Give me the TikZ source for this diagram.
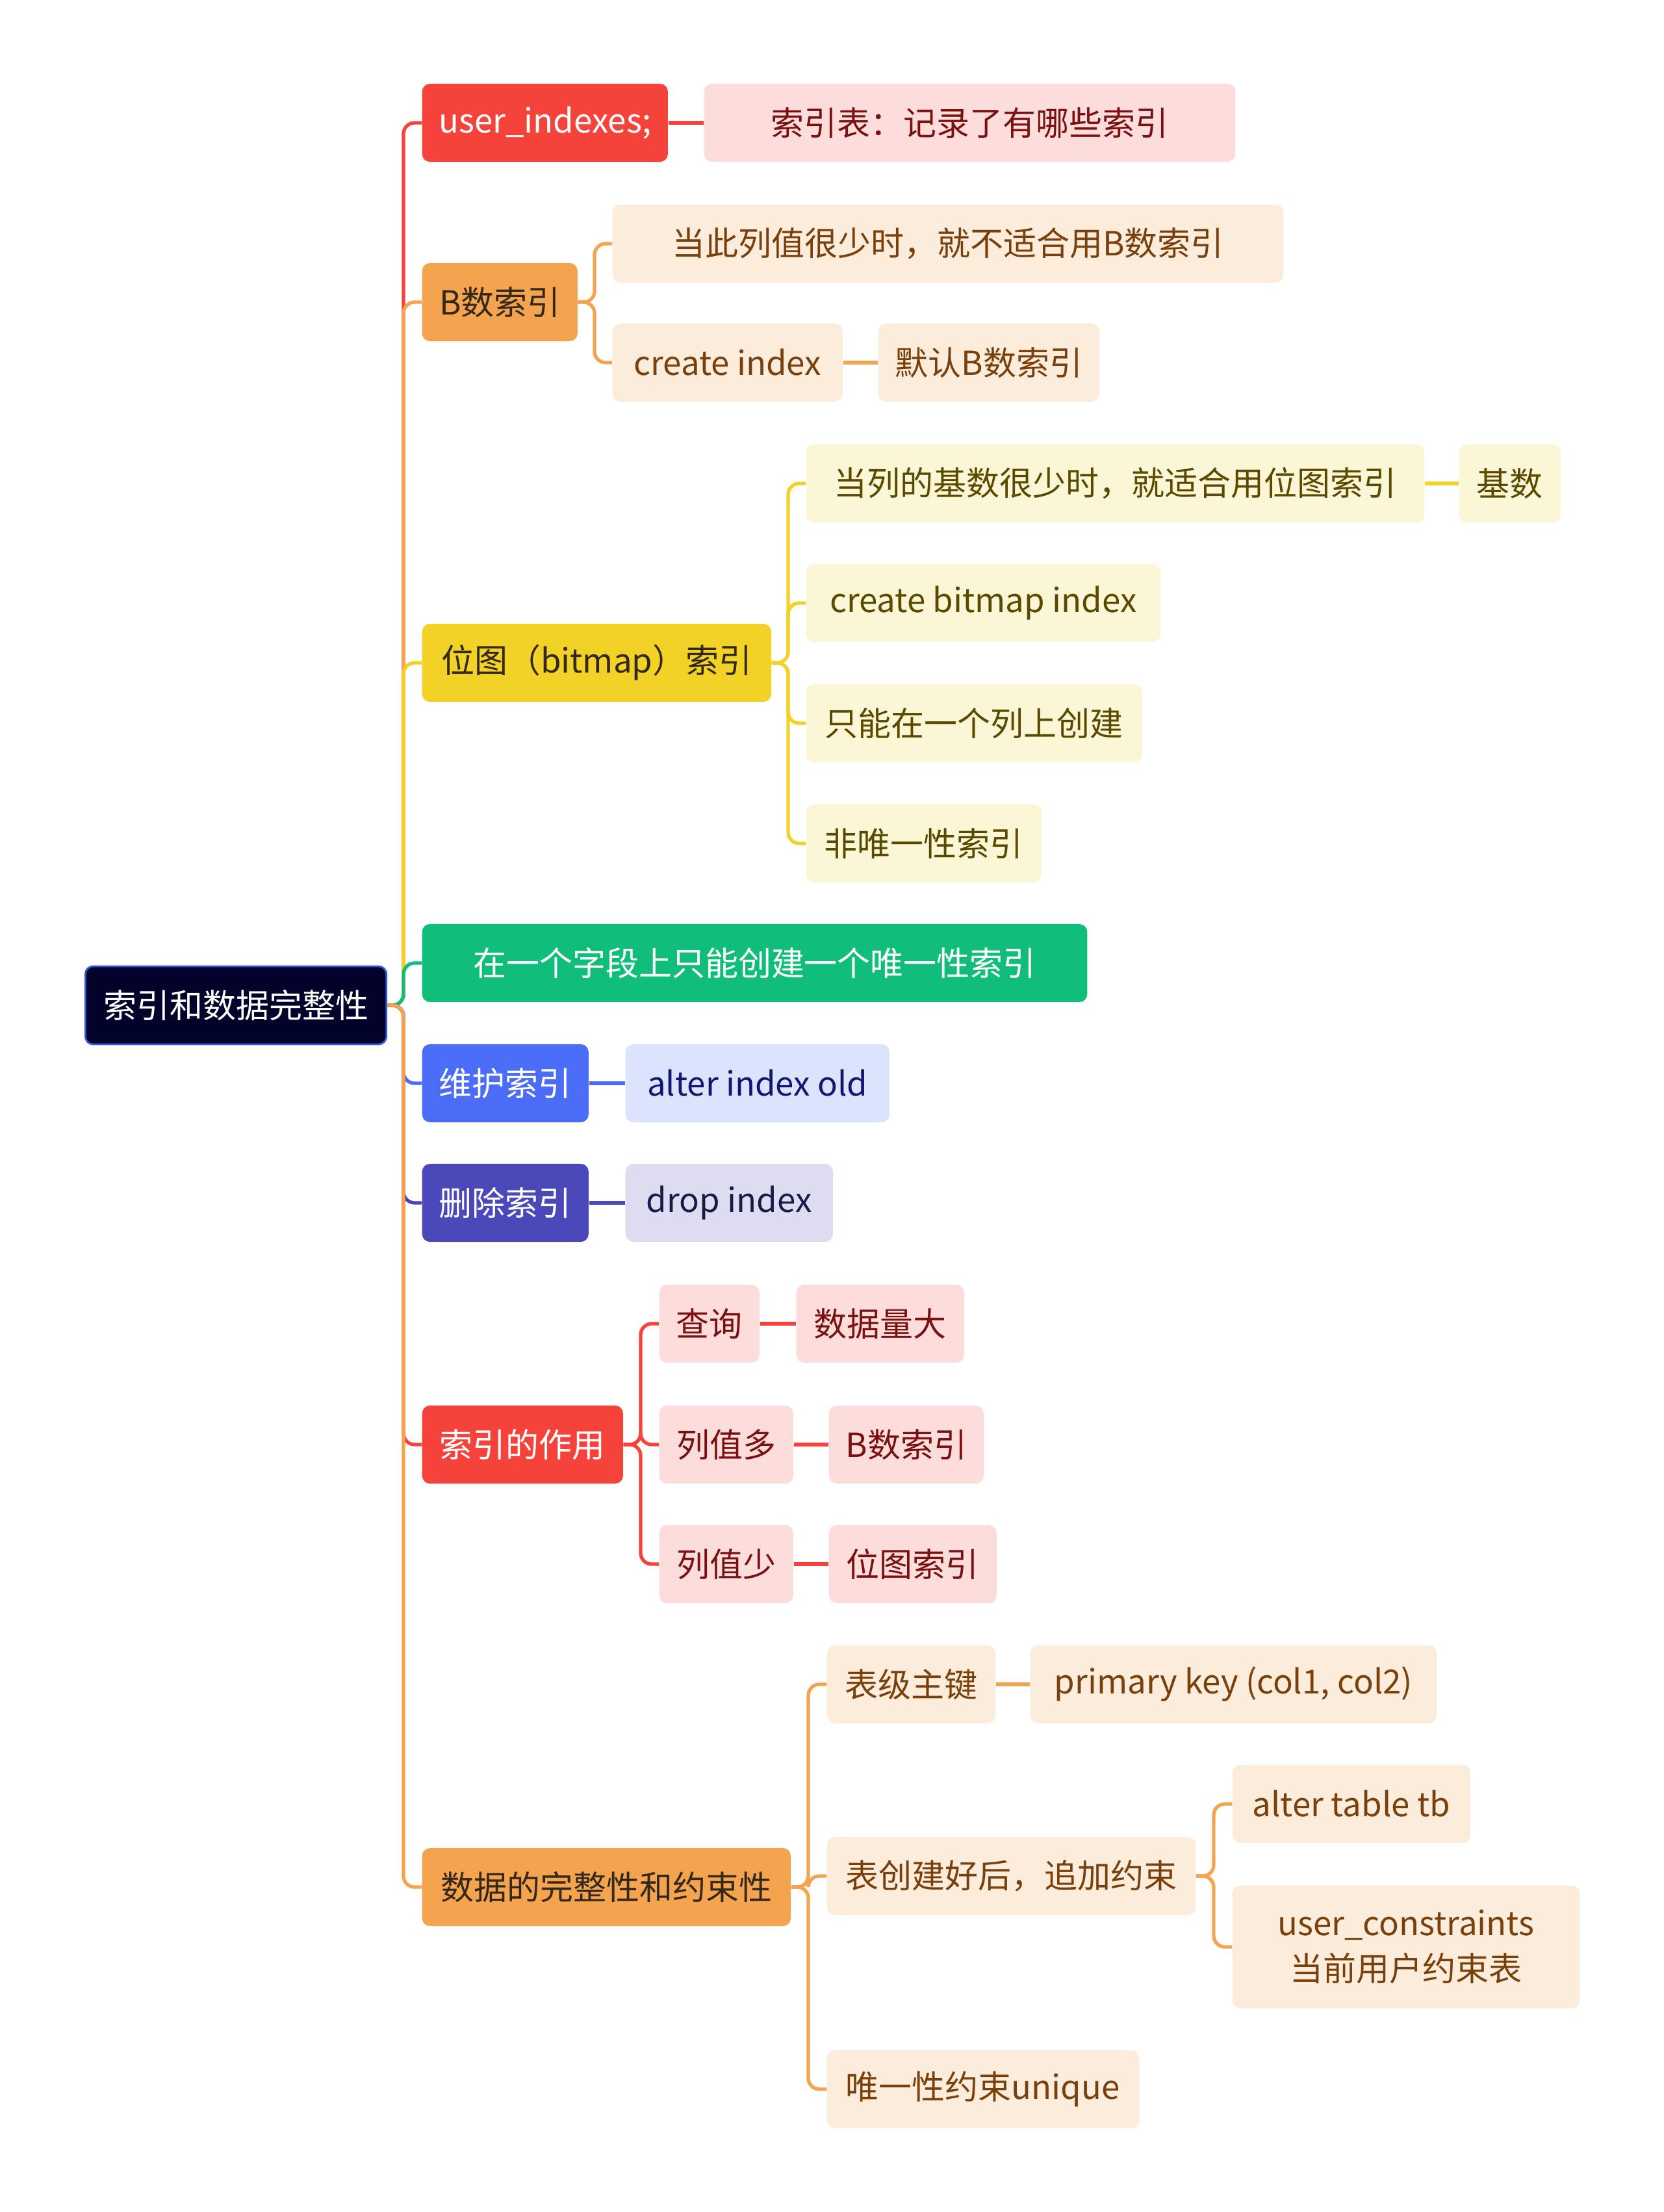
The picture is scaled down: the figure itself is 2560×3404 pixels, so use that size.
\documentclass[tikz,border=0pt]{standalone}
\usepackage{fontspec}
\setmainfont{Noto Sans CJK SC}
\definecolor{RootFill}{RGB}{2,2,42}
\definecolor{RootLine}{RGB}{48,88,214}
\definecolor{RedMain}{RGB}{245,67,59}
\definecolor{RedSoft}{RGB}{253,220,220}
\definecolor{RedText}{RGB}{122,16,16}
\definecolor{OrangeMain}{RGB}{244,163,79}
\definecolor{OrangeSoft}{RGB}{252,236,220}
\definecolor{OrangeText}{RGB}{122,64,12}
\definecolor{YellowMain}{RGB}{242,210,38}
\definecolor{YellowSoft}{RGB}{251,246,214}
\definecolor{YellowText}{RGB}{90,74,0}
\definecolor{GreenMain}{RGB}{16,190,122}
\definecolor{BlueMain}{RGB}{74,108,247}
\definecolor{BlueSoft}{RGB}{220,227,252}
\definecolor{BlueText}{RGB}{14,24,112}
\definecolor{IndigoMain}{RGB}{75,72,186}
\definecolor{IndigoSoft}{RGB}{221,220,240}
\definecolor{IndigoText}{RGB}{26,26,72}
\definecolor{DarkText}{RGB}{52,40,26}
\tikzset{
  basebox/.style={rounded corners=0.12cm,anchor=west,minimum height=1.2cm,
    inner sep=0pt,align=center,font=\fontsize{14.5}{20}\selectfont},
  rootbox/.style={basebox,fill=RootFill,draw=RootLine,line width=0.8pt,text=white},
  redtopic/.style={basebox,fill=RedMain,text=white},
  orangetopic/.style={basebox,fill=OrangeMain,text=DarkText},
  yellowtopic/.style={basebox,fill=YellowMain,text=DarkText},
  greentopic/.style={basebox,fill=GreenMain,text=white},
  bluetopic/.style={basebox,fill=BlueMain,text=white},
  indigotopic/.style={basebox,fill=IndigoMain,text=white},
  redleaf/.style={basebox,fill=RedSoft,text=RedText},
  orangeleaf/.style={basebox,fill=OrangeSoft,text=OrangeText},
  yellowleaf/.style={basebox,fill=YellowSoft,text=YellowText},
  blueleaf/.style={basebox,fill=BlueSoft,text=BlueText},
  indigoleaf/.style={basebox,fill=IndigoSoft,text=IndigoText},
  link/.style={line width=1.5pt,rounded corners=0.17cm,color=#1}
}
\begin{document}
\begin{tikzpicture}[x=0.01cm,y=-0.01cm]
\useasboundingbox (0,0) rectangle (2560,3404);

% root and first level
\node[rootbox,minimum width=4.63cm] (root) at (130,1547) {索引和数据完整性};
\node[redtopic,minimum width=3.78cm] (useridx) at (649,189) {user\_indexes;};
\node[orangetopic,minimum width=2.39cm] (btree) at (649,465) {B数索引};
\node[yellowtopic,minimum width=5.37cm] (bitmap) at (649,1020) {位图（bitmap）索引};
\node[greentopic,minimum width=10.23cm] (unique) at (649,1482) {在一个字段上只能创建一个唯一性索引};
\node[bluetopic,minimum width=2.56cm] (alter) at (649,1667) {维护索引};
\node[indigotopic,minimum width=2.56cm] (drop) at (649,1851) {删除索引};
\node[redtopic,minimum width=3.09cm] (usage) at (649,2223) {索引的作用};
\node[orangetopic,minimum width=5.67cm] (integ) at (649,2904) {数据的完整性和约束性};

% second level
\node[redleaf,minimum width=8.17cm] (idxtab) at (1083,189) {索引表：记录了有哪些索引};
\node[orangeleaf,minimum width=10.32cm] (bfew) at (942,375) {当此列值很少时，就不适合用B数索引};
\node[orangeleaf,minimum width=3.54cm] (bcreate) at (942,558) {create index};
\node[orangeleaf,minimum width=3.40cm] (bdefault) at (1351,558) {默认B数索引};
\node[yellowleaf,minimum width=9.51cm] (mfew) at (1240,744) {当列的基数很少时，就适合用位图索引};
\node[yellowleaf,minimum width=1.56cm] (mcard) at (2245,744) {基数};
\node[yellowleaf,minimum width=5.45cm] (mcreate) at (1240,928) {create bitmap index};
\node[yellowleaf,minimum width=5.17cm] (mone) at (1240,1113) {只能在一个列上创建};
\node[yellowleaf,minimum width=3.62cm] (mnonuniq) at (1240,1298) {非唯一性索引};
\node[blueleaf,minimum width=4.06cm] (altercmd) at (962,1667) {alter index old};
\node[indigoleaf,minimum width=3.19cm] (dropcmd) at (962,1851) {drop index};
\node[redleaf,minimum width=1.54cm] (query) at (1014,2037) {查询};
\node[redleaf,minimum width=2.58cm] (bigdata) at (1225,2037) {数据量大};
\node[redleaf,minimum width=2.06cm] (manyval) at (1014,2223) {列值多};
\node[redleaf,minimum width=2.38cm] (useb) at (1275,2223) {B数索引};
\node[redleaf,minimum width=2.06cm] (fewval) at (1014,2407) {列值少};
\node[redleaf,minimum width=2.58cm] (usebmp) at (1275,2407) {位图索引};
\node[orangeleaf,minimum width=2.59cm] (pkey) at (1272,2592) {表级主键};
\node[orangeleaf,minimum width=6.25cm] (pkcols) at (1585,2592) {primary key (col1, col2)};
\node[orangeleaf,minimum width=5.67cm] (later) at (1272,2887) {表创建好后，追加约束};
\node[orangeleaf,minimum width=3.66cm] (altertab) at (1896,2776) {alter table tb};
\node[orangeleaf,minimum width=5.34cm,minimum height=1.89cm] (constab) at (1896,2996)
  {user\_constraints\\当前用户约束表};
\node[orangeleaf,minimum width=4.80cm] (uniqcons) at (1272,3215) {唯一性约束unique};

% joints
\coordinate (trunk) at (621,1547);
\coordinate (bjoin) at (915,465);
\coordinate (mjoin) at (1213,1020);
\coordinate (ujoin) at (986,2223);
\coordinate (ijoin) at (1244,2904);
\coordinate (ljoin) at (1868,2887);

% first level links
\draw[link=RedMain] (root.east) -- (trunk) |- (useridx.west);
\draw[link=OrangeMain] (root.east) -- (trunk) |- (btree.west);
\draw[link=YellowMain] (root.east) -- (trunk) |- (bitmap.west);
\draw[link=GreenMain] (root.east) -- (trunk) |- (unique.west);
\draw[link=BlueMain] (root.east) -- (trunk) |- (alter.west);
\draw[link=IndigoMain] (root.east) -- (trunk) |- (drop.west);
\draw[link=RedMain] (root.east) -- (trunk) |- (usage.west);
\draw[link=OrangeMain] (root.east) -- (trunk) |- (integ.west);

% second level links
\draw[link=RedMain] (useridx.east) -- (idxtab.west);
\foreach \n in {bfew,bcreate}
  \draw[link=OrangeMain] (btree.east) -- (bjoin) |- (\n.west);
\draw[link=OrangeMain] (bcreate.east) -- (bdefault.west);
\foreach \n in {mfew,mcreate,mone,mnonuniq}
  \draw[link=YellowMain] (bitmap.east) -- (mjoin) |- (\n.west);
\draw[link=YellowMain] (mfew.east) -- (mcard.west);
\draw[link=BlueMain] (alter.east) -- (altercmd.west);
\draw[link=IndigoMain] (drop.east) -- (dropcmd.west);
\foreach \n in {query,manyval,fewval}
  \draw[link=RedMain] (usage.east) -- (ujoin) |- (\n.west);
\draw[link=RedMain] (query.east) -- (bigdata.west);
\draw[link=RedMain] (manyval.east) -- (useb.west);
\draw[link=RedMain] (fewval.east) -- (usebmp.west);
\foreach \n in {pkey,later,uniqcons}
  \draw[link=OrangeMain] (integ.east) -- (ijoin) |- (\n.west);
\draw[link=OrangeMain] (pkey.east) -- (pkcols.west);
\foreach \n in {altertab,constab}
  \draw[link=OrangeMain] (later.east) -- (ljoin) |- (\n.west);
\end{tikzpicture}
\end{document}
